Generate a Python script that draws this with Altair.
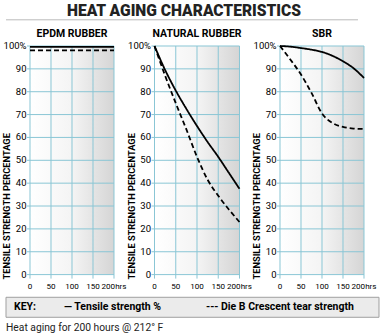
import altair as alt
import pandas as pd

FONT = "Roboto, Liberation Sans, sans-serif"

# ---- data ----
hours = [0, 25, 50, 75, 100, 125, 150, 175, 200]
epdm_tensile = [99.6, 99.6, 99.6, 99.6, 99.6, 99.6, 99.6, 99.6, 99.6]
epdm_tear = [98.1, 98.1, 98.1, 98.1, 98.1, 98.1, 98.1, 98.1, 98.1]
nr_tensile = [100, 89.5, 80.5, 72.5, 65, 58, 51.5, 44.5, 37.5]
nr_tear = [100, 87, 75, 63.5, 51.5, 41.5, 34.5, 28.5, 23]
sbr_tensile = [100, 99.7, 99.1, 98.4, 97.4, 95.7, 93.3, 90.3, 86]
sbr_tear = [100, 94, 87.5, 79.5, 70.5, 66.3, 64.6, 63.9, 63.7]

panel_titles = ["EPDM RUBBER", "NATURAL RUBBER", "SBR"]
series_names = ["Tensile strength %", "Die B Crescent tear strength"]
x_ticks = [0, 50, 100, 150, 200]
x_labels = ["0", "50", "100", "150", "200hrs"]
y_ticks = [0, 10, 20, 30, 40, 50, 60, 70, 80, 90, 100]
y_labels = ["0", "10", "20", "30", "40", "50", "60", "70", "80", "90", "100%"]

title_text = "HEAT AGING CHARACTERISTICS"
y_title = "TENSILE STRENGTH PERCENTAGE"
key_label = "KEY:"
key_solid = "\u2014 Tensile strength %"
key_dash = "---  Die B Crescent tear strength"
footer = "Heat aging for 200 hours @ 212\u00b0 F"

GRID = "#8ac6d5"
PH = 228.6
TOP = 44.7

gradient = alt.LinearGradient(
    gradient="linear",
    stops=[alt.GradientStop(color="#ffffff", offset=0),
           alt.GradientStop(color="#f4f4f4", offset=0.5),
           alt.GradientStop(color="#d5d5d5", offset=1)],
    x1=0, x2=1, y1=0, y2=0,
)

dummy = pd.DataFrame({"a": [0]})


def txt(x, y, s, size, weight="normal", align="left", color="#000", angle=0):
    return alt.Chart(dummy).mark_text(font=FONT, fontSize=size, fontWeight=weight, color=color,
                                      align=align, baseline="middle", angle=angle).encode(
        x=alt.value(x), y=alt.value(y), text=alt.value(s))


def panel(title, tensile, tear, width, extra=None):
    df = pd.DataFrame({
        "hours": hours * 2,
        "value": tensile + tear,
        "series": [series_names[0]] * len(hours) + [series_names[1]] * len(hours),
    })
    xt = pd.DataFrame({"g": x_ticks, "lab": x_labels})
    yt = pd.DataFrame({"g": y_ticks, "lab": y_labels})
    xs = alt.Scale(domain=[0, 200], nice=False, zero=False)
    ys = alt.Scale(domain=[0, 100], nice=False)
    X = lambda f: alt.X(f, scale=xs, axis=None)
    Y = lambda f: alt.Y(f, scale=ys, axis=None)

    bg = alt.Chart(dummy).mark_rect(color=gradient).encode(
        x=alt.datum(0, scale=xs, axis=None, type="quantitative"),
        x2=alt.datum(200),
        y=alt.datum(0, scale=ys, axis=None, type="quantitative"),
        y2=alt.datum(100),
    )
    gx = alt.Chart(xt).mark_rule(color=GRID, strokeWidth=1).encode(
        x=X("g:Q"), y=alt.value(0), y2=alt.value(PH + 4))
    gy = alt.Chart(yt).mark_rule(color=GRID, strokeWidth=1).encode(
        y=Y("g:Q"), x=alt.value(-3), x2=alt.value(width))
    xl = alt.Chart(xt).mark_text(font=FONT, fontSize=8.1, color="#000", baseline="middle").encode(
        x=X("g:Q"), y=alt.value(PH + 12.5), text="lab:N")
    yl = alt.Chart(yt).mark_text(font=FONT, fontSize=9.5, color="#000", baseline="middle", align="right").encode(
        y=Y("g:Q"), x=alt.value(-3.5), text="lab:N")
    lines = alt.Chart(df).mark_line(color="#000", strokeWidth=1.8, interpolate="monotone").encode(
        x=X("hours:Q"),
        y=Y("value:Q"),
        strokeDash=alt.StrokeDash("series:N", scale=alt.Scale(domain=series_names, range=[[1, 0], [5, 3]]),
                                  legend=None),
        detail="series:N",
    )
    layers = [bg, gx, gy, lines, xl, yl,
              txt(width / 2, -11.5, title, 10.5, "bold", "center"),
              txt(-23, PH + 5, y_title, 9.3, "bold", "left", "#000", 270)]
    if extra:
        layers = layers + extra
    return alt.layer(*layers).properties(width=width, height=PH)


# header / key / footer drawn relative to the first panel's plot origin
KY = 296 - TOP
extra = [
    alt.Chart(dummy).mark_rect(opacity=0).encode(
        x=alt.value(-29), x2=alt.value(-28), y=alt.value(-TOP), y2=alt.value(-TOP + 1)),
    txt(154, 10 - TOP, title_text, 15.6, 900, "center", "#222"),
    alt.Chart(dummy).mark_rule(color="#bbbbbb", strokeWidth=1).encode(
        x=alt.value(-24), x2=alt.value(328), y=alt.value(18.5 - TOP)),
    alt.Chart(dummy).mark_rect(fill="#ebebeb", stroke="#a0a0a0", strokeWidth=1).encode(
        x=alt.value(-24), x2=alt.value(349), y=alt.value(KY), y2=alt.value(KY + 20)),
    txt(-16, KY + 10, key_label, 10.5, "bold"),
    txt(34, KY + 10, key_solid, 10.5, "bold"),
    txt(176, KY + 10, key_dash, 10.5, "bold"),
    txt(-24, 327 - TOP, footer, 10.3, "normal", "left", "#222"),
]

chart = alt.hconcat(
    panel(panel_titles[0], epdm_tensile, epdm_tear, 84, extra),
    panel(panel_titles[1], nr_tensile, nr_tear, 85),
    panel(panel_titles[2], sbr_tensile, sbr_tear, 84),
    spacing=40.5, bounds="flush",
).properties(
    padding=0, autosize=alt.AutoSizeParams(type="pad"),
).configure_view(stroke="transparent")

chart.save("out.html", embed_options={"renderer": "svg", "actions": False})
